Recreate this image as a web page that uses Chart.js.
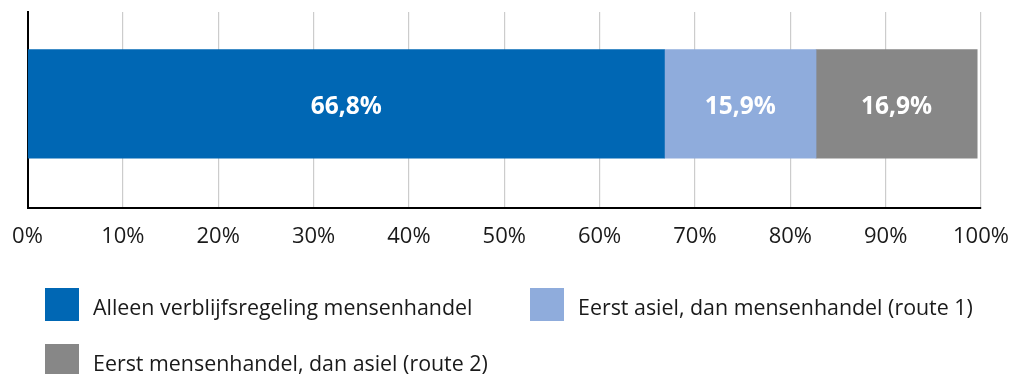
<!DOCTYPE html>
<html>
<head>
<meta charset="utf-8">
<script src="https://cdn.jsdelivr.net/npm/chart.js@4.4.1/dist/chart.umd.min.js"></script>
<style>
  html, body { margin: 0; padding: 0; background: #ffffff; }
  #wrap { position: relative; width: 1021px; height: 374px; overflow: hidden; }
  #chart { position: absolute; left: 0; top: 0; }
  #legend { position: absolute; left: 0; top: 0; width: 1021px; height: 374px;
            font-family: "Open Sans", sans-serif; font-size: 21.4px; color: #1a1a1a; }
  .item { position: absolute; display: flex; align-items: center; height: 33px; white-space: nowrap; }
  .swatch { width: 34px; height: 33px; margin-right: 14px; flex: none; }
  .text { position: relative; top: 2px; }
</style>
</head>
<body>
<div id="wrap">
  <canvas id="chart" width="1021" height="374"></canvas>
  <div id="legend"></div>
</div>
<script>
// Share of cases per route (percent)
const seriesNames = [
  'Alleen verblijfsregeling mensenhandel',
  'Eerst asiel, dan mensenhandel (route 1)',
  'Eerst mensenhandel, dan asiel (route 2)'
];
const seriesValues = [66.8, 15.9, 16.9];
const seriesColors = ['#0067b4', '#8facdc', '#878787'];
const tickLabels = ['0%', '10%', '20%', '30%', '40%', '50%', '60%', '70%', '80%', '90%', '100%'];
const rowIndex = [0];

const fmtPct = v => v.toFixed(1).replace('.', ',') + '%';

// white value text in the middle of each segment
const segmentLabels = {
  id: 'segmentLabels',
  afterDatasetsDraw(chart) {
    const ctx = chart.ctx;
    ctx.save();
    ctx.font = 'bold 24.5px "Open Sans", sans-serif';
    ctx.fillStyle = '#ffffff';
    ctx.textAlign = 'center';
    ctx.textBaseline = 'middle';
    chart.data.datasets.forEach((ds, i) => {
      chart.getDatasetMeta(i).data.forEach((bar, j) => {
        const p = bar.getCenterPoint();
        ctx.fillText(fmtPct(ds.data[j].x), p.x, p.y + 3);
      });
    });
    ctx.restore();
  }
};

const chart = new Chart(document.getElementById('chart'), {
  type: 'bar',
  data: {
    datasets: seriesNames.map((name, i) => ({
      label: name,
      data: rowIndex.map(r => ({ y: r, x: seriesValues[i] })),
      backgroundColor: seriesColors[i],
      borderWidth: 0,
      barThickness: 108.5
    }))
  },
  options: {
    indexAxis: 'y',
    responsive: false,
    animation: false,
    layout: { padding: { left: 27.5, right: 40, top: 12, bottom: 108 } },
    plugins: { legend: { display: false }, tooltip: { enabled: false } },
    scales: {
      x: {
        type: 'linear',
        stacked: true,
        min: 0,
        max: 100,
        ticks: {
          stepSize: 10,
          padding: 12,
          color: '#1a1a1a',
          font: { family: '"Open Sans", sans-serif', size: 22, lineHeight: 34 / 22 },
          callback: (v, i) => tickLabels[i]
        },
        grid: { color: '#cccccc', lineWidth: 1.2, drawTicks: false },
        border: { color: '#000000', width: 2 }
      },
      y: {
        type: 'linear',
        stacked: true,
        min: -1,
        max: 0.87,
        ticks: { display: false },
        grid: { display: false, drawTicks: false },
        border: { color: '#000000', width: 2 }
      }
    }
  },
  plugins: [segmentLabels]
});

// legend built from the chart datasets
const legendPos = [
  { left: 45, top: 288 },
  { left: 530, top: 288 },
  { left: 45, top: 344 }
];
const legendEl = document.getElementById('legend');
chart.data.datasets.forEach((ds, i) => {
  const item = document.createElement('div');
  item.className = 'item';
  item.style.left = legendPos[i].left + 'px';
  item.style.top = legendPos[i].top + 'px';
  const sw = document.createElement('span');
  sw.className = 'swatch';
  sw.style.background = ds.backgroundColor;
  const tx = document.createElement('span');
  tx.className = 'text';
  tx.textContent = ds.label;
  item.appendChild(sw);
  item.appendChild(tx);
  legendEl.appendChild(item);
});
</script>
</body>
</html>
